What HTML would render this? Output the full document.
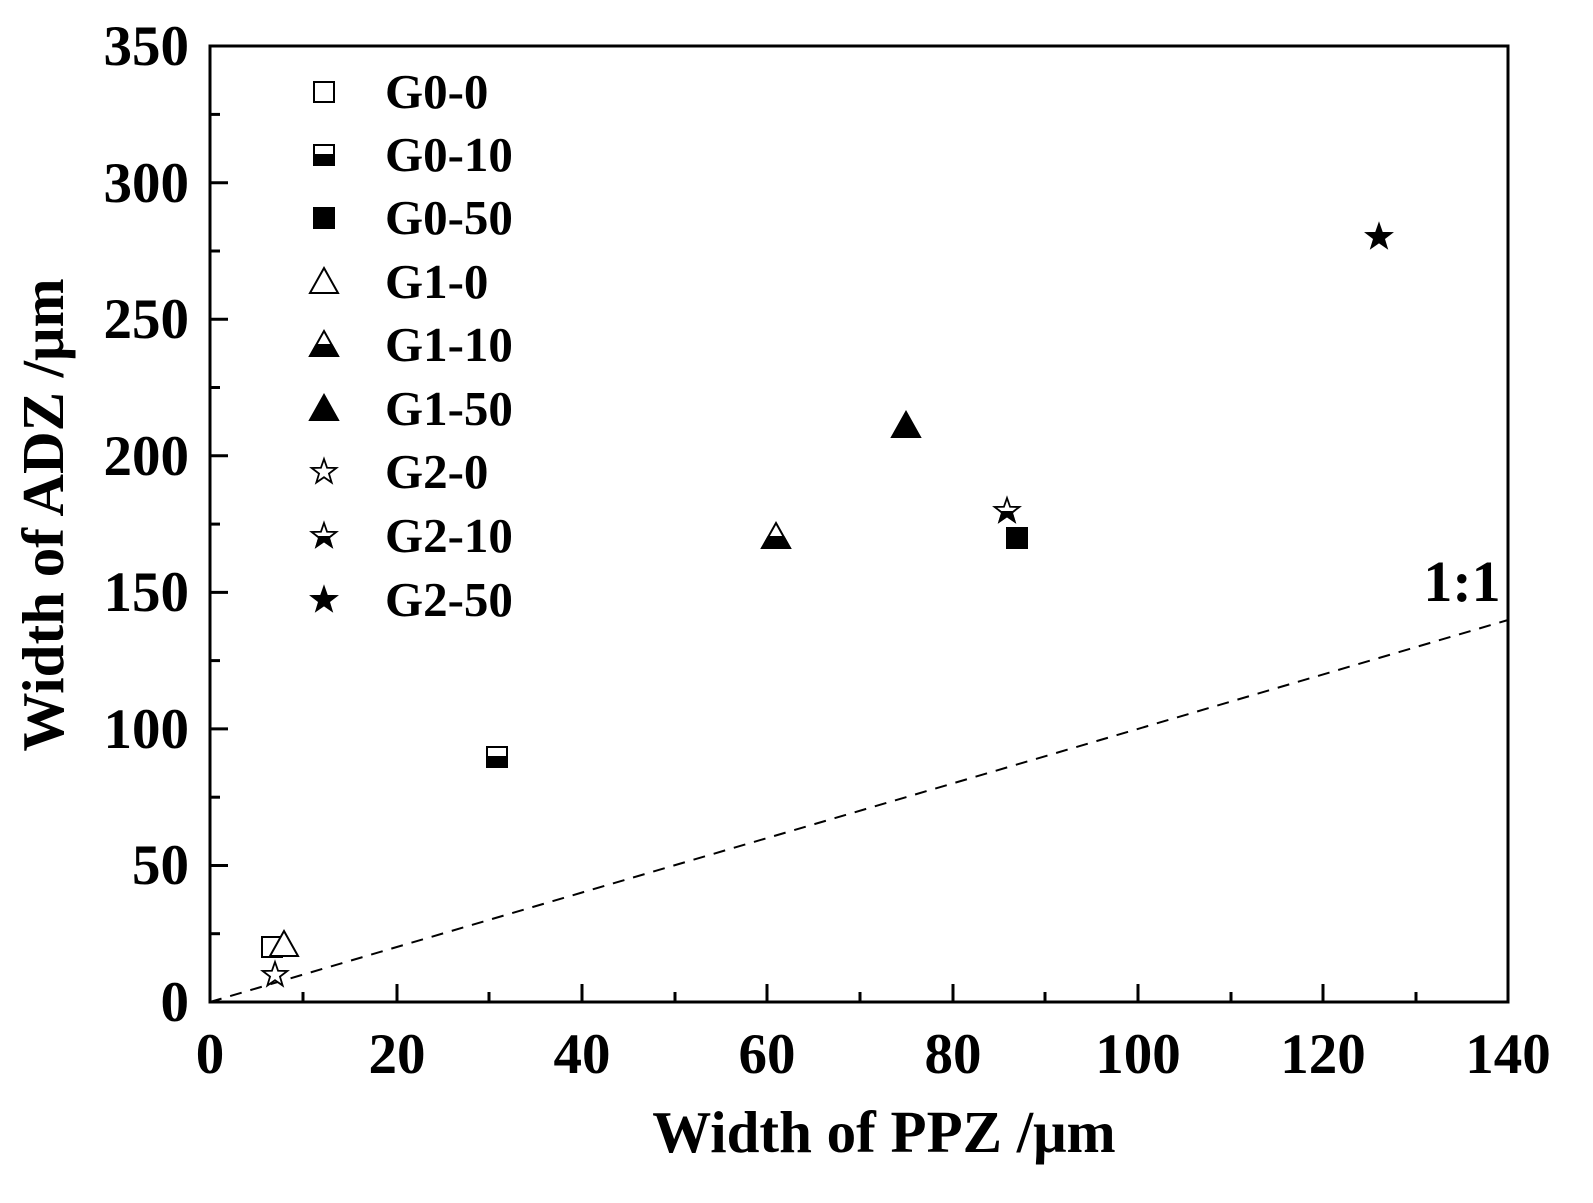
<!DOCTYPE html>
<html><head><meta charset="utf-8"><style>html,body{margin:0;padding:0;background:#fff}</style></head>
<body>
<svg width="1593" height="1198" viewBox="0 0 1593 1198" xmlns="http://www.w3.org/2000/svg" font-family="'Liberation Serif',serif" font-weight="bold">
<defs>
<clipPath id="bh"><rect x="-20" y="0" width="40" height="20"/></clipPath>
<g id="sq"><rect x="-10" y="-10" width="20" height="20" fill="#fff" stroke="#000" stroke-width="2"/></g>
<g id="sqh"><rect x="-10" y="-10" width="20" height="20" fill="#fff" stroke="#000" stroke-width="2"/><rect x="-10" y="0" width="20" height="10" fill="#000" stroke="#000" stroke-width="2"/></g>
<g id="sqf"><rect x="-10" y="-10" width="20" height="20" fill="#000" stroke="#000" stroke-width="2"/></g>
<g id="tr"><polygon points="0,-14 14,11 -14,11" fill="#fff" stroke="#000" stroke-width="2"/></g>
<g id="trh"><polygon points="0,-14 14,11 -14,11" fill="#fff" stroke="#000" stroke-width="2"/><polygon points="-7.8,0 7.8,0 14,11 -14,11" fill="#000" stroke="#000" stroke-width="2"/></g>
<g id="trf"><polygon points="0,-14 14,11 -14,11" fill="#000" stroke="#000" stroke-width="2"/></g>
<polygon id="stp" points="0,-13 3.06,-4.21 12.36,-4.02 4.95,1.61 7.64,10.52 0,5.2 -7.64,10.52 -4.95,1.61 -12.36,-4.02 -3.06,-4.21"/>
<g id="st"><use href="#stp" fill="#fff" stroke="#000" stroke-width="1.8"/></g>
<g id="sth"><use href="#stp" fill="#fff" stroke="#000" stroke-width="1.8"/><use href="#stp" fill="#000" stroke="#000" stroke-width="1.8" clip-path="url(#bh)"/></g>
<g id="stf"><use href="#stp" fill="#000" stroke="#000" stroke-width="1.8"/></g>
</defs>

<line x1="210" y1="1002" x2="1508" y2="620" stroke="#000" stroke-width="2" stroke-dasharray="12,9"/>
<rect x="210" y="46" width="1298" height="956" fill="none" stroke="#000" stroke-width="3"/>

<g stroke="#000" stroke-width="3">
<line x1="397" y1="1002" x2="397" y2="984"/><line x1="582" y1="1002" x2="582" y2="984"/>
<line x1="767" y1="1002" x2="767" y2="984"/><line x1="953" y1="1002" x2="953" y2="984"/>
<line x1="1138" y1="1002" x2="1138" y2="984"/><line x1="1323" y1="1002" x2="1323" y2="984"/>
<line x1="303" y1="1002" x2="303" y2="992"/><line x1="489" y1="1002" x2="489" y2="992"/>
<line x1="675" y1="1002" x2="675" y2="992"/><line x1="860" y1="1002" x2="860" y2="992"/>
<line x1="1045" y1="1002" x2="1045" y2="992"/><line x1="1231" y1="1002" x2="1231" y2="992"/>
<line x1="1416" y1="1002" x2="1416" y2="992"/>
<line x1="210" y1="865.5" x2="228" y2="865.5"/><line x1="210" y1="728.9" x2="228" y2="728.9"/>
<line x1="210" y1="592.4" x2="228" y2="592.4"/><line x1="210" y1="455.8" x2="228" y2="455.8"/>
<line x1="210" y1="319.3" x2="228" y2="319.3"/><line x1="210" y1="182.7" x2="228" y2="182.7"/>
<line x1="210" y1="933.7" x2="220" y2="933.7"/><line x1="210" y1="797.2" x2="220" y2="797.2"/>
<line x1="210" y1="660.6" x2="220" y2="660.6"/><line x1="210" y1="524.1" x2="220" y2="524.1"/>
<line x1="210" y1="387.5" x2="220" y2="387.5"/><line x1="210" y1="251" x2="220" y2="251"/>
<line x1="210" y1="114.4" x2="220" y2="114.4"/>
</g>

<g font-size="57" text-anchor="middle">
<text x="210" y="1073">0</text><text x="397" y="1073">20</text><text x="582" y="1073">40</text>
<text x="767" y="1073">60</text><text x="953" y="1073">80</text><text x="1138" y="1073">100</text>
<text x="1323" y="1073">120</text><text x="1508" y="1073">140</text>
</g>
<g font-size="57" text-anchor="end">
<text x="189" y="1021">0</text><text x="189" y="884">50</text><text x="189" y="748">100</text>
<text x="189" y="611">150</text><text x="189" y="475">200</text><text x="189" y="338">250</text>
<text x="189" y="202">300</text><text x="189" y="65">350</text>
</g>
<text x="884" y="1152" font-size="59" text-anchor="middle">Width of PPZ /μm</text>
<text transform="translate(63,515) rotate(-90)" font-size="59" text-anchor="middle">Width of ADZ /μm</text>
<text x="1462" y="601" font-size="58" text-anchor="middle">1:1</text>

<use href="#sq" x="324" y="92"/><use href="#sqh" x="324" y="155"/><use href="#sqf" x="324" y="218"/>
<use href="#tr" x="324" y="282"/><use href="#trh" x="324" y="345"/><use href="#trf" x="324" y="409"/>
<use href="#st" x="324" y="472"/><use href="#sth" x="324" y="536"/><use href="#stf" x="324" y="600"/>
<g font-size="49">
<text x="385" y="108">G0-0</text><text x="385" y="171">G0-10</text><text x="385" y="234">G0-50</text>
<text x="385" y="298">G1-0</text><text x="385" y="361">G1-10</text><text x="385" y="425">G1-50</text>
<text x="385" y="488">G2-0</text><text x="385" y="552">G2-10</text><text x="385" y="616">G2-50</text>
</g>

<use href="#sq" x="272" y="947"/>
<use href="#tr" x="284" y="945"/>
<use href="#st" x="275" y="975"/>
<use href="#sqh" x="497" y="757"/>
<use href="#trh" x="776" y="537"/>
<use href="#trf" x="906" y="426"/>
<use href="#sth" x="1007" y="511"/>
<use href="#sqf" x="1017" y="538"/>
<use href="#stf" x="1379" y="237"/>
</svg>
</body></html>
